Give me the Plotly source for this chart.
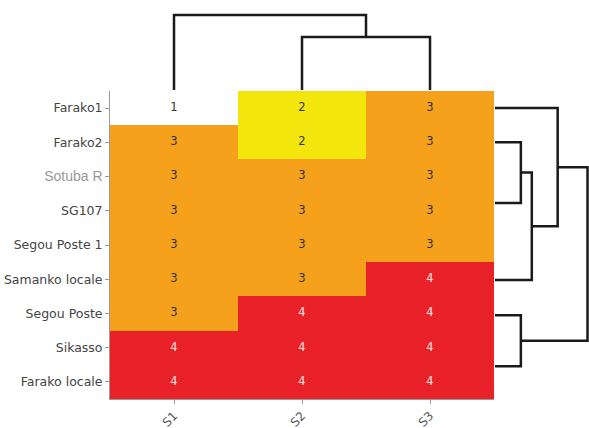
import plotly.graph_objects as go

# heatmap data
samples = ["S1", "S2", "S3"]
sites = ["Farako1", "Farako2", "Sotuba R", "SG107", "Segou Poste 1",
         "Samanko locale", "Segou Poste", "Sikasso", "Farako locale"]
scores = [
    [1, 2, 3],
    [3, 2, 3],
    [3, 3, 3],
    [3, 3, 3],
    [3, 3, 3],
    [3, 3, 4],
    [3, 4, 4],
    [4, 4, 4],
    [4, 4, 4],
]

# dendrogram links (scipy style icoord / dcoord)
col_icoord = [[1, 1, 2, 2], [0, 0, 1.5, 1.5]]
col_dcoord = [[0, 53, 53, 0], [0, 75, 75, 53]]
row_icoord = [[1.0, 1.0, 2.77, 2.77], [1.885, 1.885, 5.02, 5.02],
              [0, 0, 3.45, 3.45], [6.05, 6.05, 7.54, 7.54], [1.73, 1.73, 6.8, 6.8]]
row_dcoord = [[0, 26, 26, 0], [26, 37, 37, 0], [0, 63, 63, 37],
              [0, 26, 26, 0], [63, 93, 93, 26]]

W, H = 589, 428

def fx(px):
    return px / W

def fy(py):
    return (H - py) / H

colors = [[0, "#FFFFFF"], [0.1666, "#FFFFFF"], [0.1667, "#F2E60C"], [0.4999, "#F2E60C"],
          [0.5, "#F5A11C"], [0.8333, "#F5A11C"], [0.8334, "#E82228"], [1, "#E82228"]]

fig = go.Figure()
fig.add_trace(go.Heatmap(z=scores, x=list(range(3)), y=list(range(9)),
                         colorscale=colors, zmin=1, zmax=4, showscale=False,
                         hoverinfo="skip"))

tx, ty, tt, tc = [], [], [], []
for i, row in enumerate(scores):
    for j, v in enumerate(row):
        tx.append(j); ty.append(i); tt.append(str(v))
        tc.append("#FBE3E3" if v == 4 else "#333333")
fig.add_trace(go.Scatter(x=tx, y=ty, text=tt, mode="text",
                         textfont=dict(family="DejaVu Sans", size=11.5, color=tc),
                         hoverinfo="skip"))

line = dict(color="#1a1a1a", width=2.5)
for xs, ds in zip(col_icoord, col_dcoord):
    fig.add_trace(go.Scatter(x=xs, y=ds, mode="lines", line=line, xaxis="x", yaxis="y2",
                             hoverinfo="skip", cliponaxis=False))
for ys, ds in zip(row_icoord, row_dcoord):
    fig.add_trace(go.Scatter(x=ds, y=ys, mode="lines", line=line, xaxis="x3", yaxis="y",
                             hoverinfo="skip"))

ticktext = ["<span style='color:#999999;font-family:Liberation Sans;font-size:14px'>%s</span>" % s
            if s == "Sotuba R" else s for s in sites]

fig.update_layout(
    width=W, height=H, margin=dict(l=0, r=0, t=0, b=0, autoexpand=False),
    paper_bgcolor="white", plot_bgcolor="white", showlegend=False,
    font=dict(family="DejaVu Sans", size=11, color="#444444"),
    xaxis=dict(domain=[fx(110), fx(494)], range=[-0.5, 2.5], tickvals=[0, 1, 2],
               ticktext=samples, tickangle=-45, ticks="outside", ticklen=4,
               tickcolor="#999999", showline=True, linecolor="#999999", linewidth=1,
               showgrid=False, zeroline=False, anchor="y", automargin=False,
               tickfont=dict(size=12, color="#555555")),
    yaxis=dict(domain=[fy(399), fy(91)], range=[8.5, -0.5], tickvals=list(range(9)),
               ticktext=ticktext, ticks="outside", ticklen=4, tickcolor="#999999",
               showline=True, linecolor="#999999", linewidth=1, showgrid=False,
               zeroline=False, anchor="x", automargin=False,
               tickfont=dict(size=12.5, color="#444444")),
    yaxis2=dict(domain=[fy(90), 1], range=[0, 90], visible=False, anchor="x"),
    xaxis3=dict(domain=[fx(495), 1], range=[0, 94.5], visible=False, anchor="y"),
)

fig.write_html("out.html", config={"displayModeBar": False},
               post_script="document.body.style.margin='0';document.body.style.overflow='hidden';")
